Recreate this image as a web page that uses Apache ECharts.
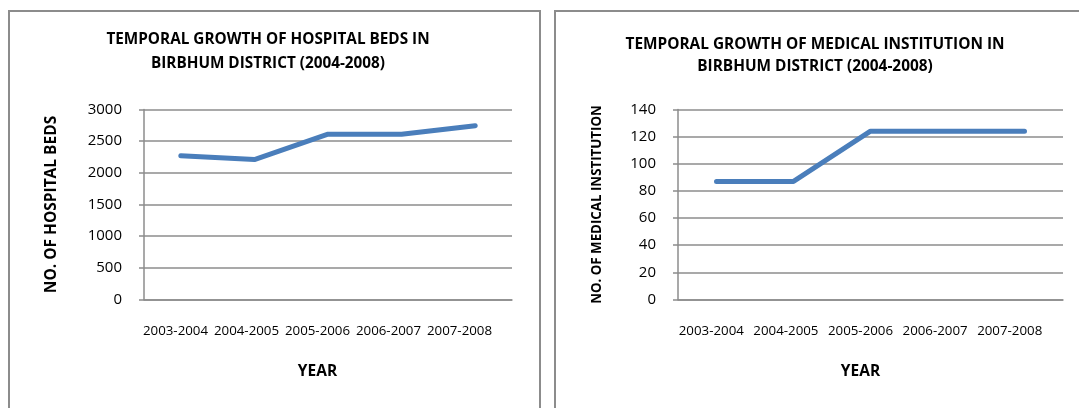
<!DOCTYPE html>
<html>
<head>
<meta charset="utf-8">
<script src="https://cdn.jsdelivr.net/npm/echarts@6/dist/echarts.min.js"></script>
<style>
html,body{margin:0;padding:0;background:#fff;}
#c{width:1079px;height:408px;}
</style>
</head>
<body>
<div id="c"></div>
<script>
const categories = ['2003-2004', '2004-2005', '2005-2006', '2006-2007', '2007-2008'];
const hospitalBeds = [2270, 2210, 2610, 2610, 2745];
const medicalInstitutions = [87, 87, 124, 124, 124];
const bedTicks = { min: 0, max: 3000, interval: 500 };
const instTicks = { min: 0, max: 140, interval: 20 };

const FONT = '"Open Sans", "Noto Sans", sans-serif';
const GREY = '#8c8c8c';
const BLUE = '#4a7ebb';

function yAxis(idx, ticks, name, gap, nameSize) {
  return {
    type: 'value', gridIndex: idx,
    min: ticks.min, max: ticks.max, interval: ticks.interval,
    name: name, nameLocation: 'middle', nameGap: gap, nameRotate: 90,
    nameTextStyle: { fontFamily: FONT, fontWeight: 'bold', fontSize: nameSize, color: '#000' },
    axisLine: { show: true, lineStyle: { color: GREY, width: 1.5 } },
    axisTick: { show: true, length: 5, lineStyle: { color: GREY, width: 1.5 } },
    axisLabel: { fontFamily: FONT, fontSize: 15, color: '#000', margin: 22, formatter: v => String(v) },
    splitLine: { show: true, lineStyle: { color: GREY, width: 1.5 } }
  };
}
function hiddenY(idx) {
  return { type: 'value', gridIndex: idx, show: false, min: 0, max: 1 };
}
function xAxis(idx) {
  return {
    type: 'category', gridIndex: idx, data: categories, boundaryGap: true,
    axisLine: { show: true, lineStyle: { color: GREY, width: 1.5 } },
    axisTick: { show: false },
    axisLabel: { show: false }
  };
}
// label-only category axis (Excel packs the labels a little tighter than the plot)
function labelAxis(idx) {
  return {
    type: 'category', gridIndex: idx, data: categories, boundaryGap: true,
    name: 'YEAR', nameLocation: 'middle', nameGap: 64,
    nameTextStyle: { fontFamily: FONT, fontWeight: 'bold', fontSize: 15.5, color: '#000' },
    axisLine: { show: false }, axisTick: { show: false }, splitLine: { show: false },
    axisLabel: { fontFamily: FONT, fontSize: 13.3, color: '#000', margin: 25, interval: 0 }
  };
}

const chart = echarts.init(document.getElementById('c'), null, { renderer: 'canvas' });
chart.setOption({
  animation: false,
  backgroundColor: '#fff',
  graphic: [
    { type: 'rect', shape: { x: 9, y: 11, width: 531, height: 420 }, style: { fill: 'none', stroke: GREY, lineWidth: 2 }, z: -1 },
    { type: 'rect', shape: { x: 555, y: 11, width: 540, height: 420 }, style: { fill: 'none', stroke: GREY, lineWidth: 2 }, z: -1 }
  ],
  title: [
    { text: 'TEMPORAL GROWTH OF HOSPITAL BEDS IN\nBIRBHUM DISTRICT (2004-2008)', left: 268, top: 28, textAlign: 'center', padding: 0,
      textStyle: { fontFamily: FONT, fontWeight: 'bold', fontSize: 15.3, lineHeight: 24, color: '#000' } },
    { text: 'TEMPORAL GROWTH OF MEDICAL INSTITUTION IN\nBIRBHUM DISTRICT (2004-2008)', left: 815, top: 33.5, textAlign: 'center', padding: 0,
      textStyle: { fontFamily: FONT, fontWeight: 'bold', fontSize: 15.4, lineHeight: 22, color: '#000' } }
  ],
  grid: [
    { left: 144, right: 567, top: 109.5, bottom: 108.5 },
    { left: 678, right: 16, top: 109.5, bottom: 108.5 },
    { left: 140, right: 584, top: 109.5, bottom: 108.5 },
    { left: 674, right: 32, top: 109.5, bottom: 108.5 }
  ],
  xAxis: [xAxis(0), xAxis(1), labelAxis(2), labelAxis(3)],
  yAxis: [yAxis(0, bedTicks, 'NO. OF HOSPITAL BEDS', 84, 15.5), yAxis(1, instTicks, 'NO. OF MEDICAL INSTITUTION', 74, 13.3), hiddenY(2), hiddenY(3)],
  series: [
    { type: 'line', xAxisIndex: 0, yAxisIndex: 0, data: hospitalBeds, symbol: 'none',
      lineStyle: { color: BLUE, width: 5, cap: 'round', join: 'round' } },
    { type: 'line', xAxisIndex: 1, yAxisIndex: 1, data: medicalInstitutions, symbol: 'none',
      lineStyle: { color: BLUE, width: 5, cap: 'round', join: 'round' } }
  ]
});
</script>
</body>
</html>
